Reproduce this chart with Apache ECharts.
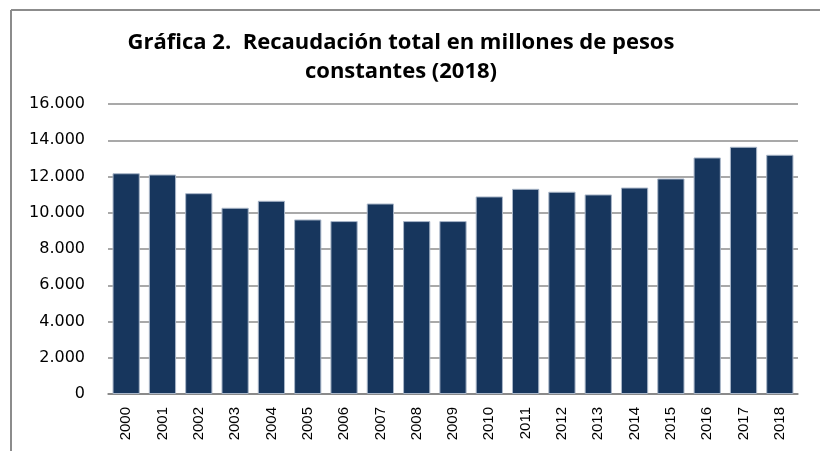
<!DOCTYPE html>
<html>
<head>
    <meta charset="utf-8">
    <title>Recaudación total</title>
    <script src="https://cdn.jsdelivr.net/npm/echarts@6/dist/echarts.min.js"></script>
    <style>
        html, body { margin: 0; padding: 0; background: #fff; }
        #main { width: 820px; height: 451px; }
    </style>
</head>
<body>
<div id="main"></div>
<script>
    // años y recaudación (millones de pesos constantes 2018)
    var years = ['2000', '2001', '2002', '2003', '2004', '2005', '2006', '2007', '2008', '2009',
        '2010', '2011', '2012', '2013', '2014', '2015', '2016', '2017', '2018'];
    var recaudacion = [12180, 12110, 11080, 10275, 10660, 9630, 9540, 10510, 9540, 9540,
        10900, 11320, 11160, 11010, 11390, 11890, 13050, 13640, 13200];

    var myChart = echarts.init(document.getElementById('main'));

    var option = {
        backgroundColor: '#fff',
        animation: false,
        title: {
            text: 'Gráfica 2.  Recaudación total en millones de pesos\nconstantes (2018)',
            left: 396,
            top: 23,
            textAlign: 'center',
            textStyle: {
                fontFamily: 'Open Sans',
                fontWeight: 'bold',
                fontSize: 22,
                lineHeight: 29,
                color: '#000'
            }
        },
        graphic: [
            {type: 'line', shape: {x1: 11, y1: 10, x2: 820, y2: 10}, style: {stroke: '#8c8c8c', lineWidth: 2}},
            {type: 'line', shape: {x1: 11, y1: 10, x2: 11, y2: 451}, style: {stroke: '#8c8c8c', lineWidth: 2}}
        ],
        grid: {
            left: 108,
            right: 22,
            top: 104,
            bottom: 57,
            containLabel: false
        },
        xAxis: {
            type: 'category',
            data: years,
            axisLine: {lineStyle: {color: '#808080', width: 1.5}},
            axisTick: {show: false},
            axisLabel: {
                rotate: 90,
                color: '#000',
                fontFamily: 'Liberation Sans',
                fontSize: 15,
                margin: 13,
                interval: 0
            }
        },
        yAxis: {
            type: 'value',
            min: 0,
            max: 16000,
            interval: 2000,
            axisLine: {show: false},
            axisTick: {show: false},
            splitLine: {lineStyle: {color: '#8c8c8c', width: 1.5}},
            axisLabel: {
                color: '#000',
                fontFamily: 'DejaVu Sans',
                fontSize: 16,
                margin: 23,
                formatter: function (v) {
                    return v === 0 ? '0' : (v / 1000).toFixed(3);
                }
            }
        },
        series: [
            {
                name: 'Recaudación',
                type: 'bar',
                data: recaudacion,
                barCategoryGap: '25%',
                itemStyle: {
                    color: '#17365d',
                    borderColor: '#a9b6c8',
                    borderWidth: 1
                }
            }
        ]
    };
    myChart.setOption(option);
</script>
</body>
</html>
